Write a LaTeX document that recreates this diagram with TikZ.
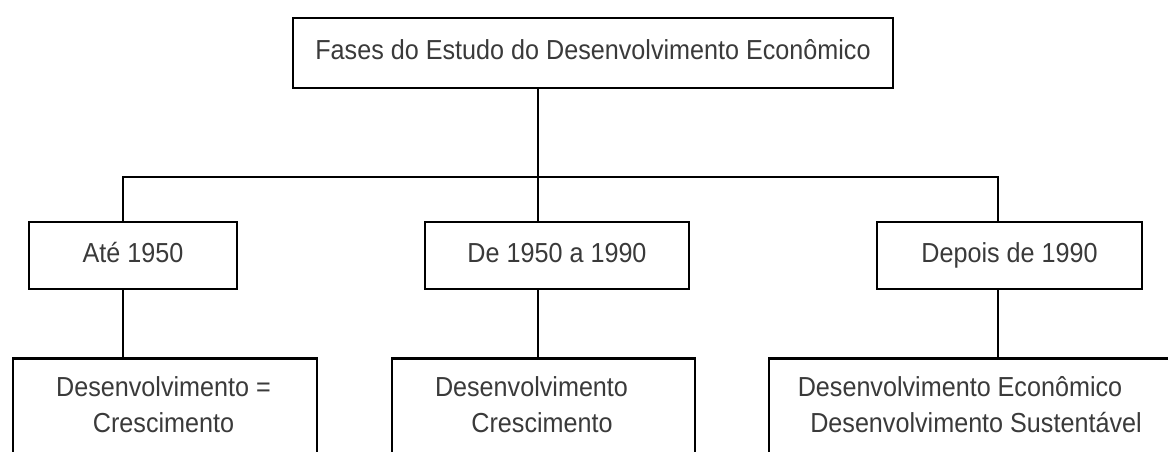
\documentclass[tikz,border=0pt]{standalone}
\usepackage{fontspec}
\setmainfont[FakeStretch=0.915]{Liberation Sans}
\definecolor{txt}{HTML}{3A3A3A}
\begin{document}
\begin{tikzpicture}[x=1pt,y=-1pt,
  box/.style={draw=black, line width=2.7pt, inner sep=0pt, text=txt,
    font=\fontsize{27.5}{36}\selectfont},
  link/.style={draw=black, line width=2.3pt},
  lbl/.style={inner sep=0pt, text=txt, anchor=base,
    font=\fontsize{27.5}{36}\selectfont}]
\clip (0,0) rectangle (1168,452);
\fill[white] (0,0) rectangle (1168,452);
% top
\node[box, minimum width=600pt, minimum height=70pt, text height=18pt, text depth=4pt]
  (top) at (593,53) {Fases do Estudo do Desenvolvimento Econômico};
% middle row
\node[box, minimum width=208pt, minimum height=67pt, text height=18pt, text depth=5pt]
  (m1) at (133,255.5) {Até 1950};
\node[box, minimum width=264pt, minimum height=67pt, text height=18pt, text depth=5pt]
  (m2) at (557,255.5) {De 1950 a 1990};
\node[box, minimum width=265pt, minimum height=67pt, text height=18pt, text depth=5pt]
  (m3) at (1009.5,255.5) {Depois de 1990};
% bottom row boxes (cut by the page)
\node[box, minimum width=304pt, minimum height=200pt, anchor=north] (b1) at (165,357) {};
\node[box, minimum width=303pt, minimum height=200pt, anchor=north] (b2) at (543.5,357) {};
\node[box, minimum width=420pt, minimum height=200pt, anchor=north] (b3) at (979,357) {};
% bottom texts
\node[lbl] (t1) at (163.5,396) {\begin{tabular}[t]{@{}c@{}}Desenvolvimento =\\Crescimento\end{tabular}};
\node[lbl] (t2) at (542,396) {\begin{tabular}[t]{@{}c@{}}Desenvolvimento\kern21pt\\Crescimento\end{tabular}};
\node[lbl] (t3) at (976,396) {\begin{tabular}[t]{@{}c@{}}Desenvolvimento Econômico\kern32pt\\Desenvolvimento Sustentável\end{tabular}};
% connectors
\coordinate (j1) at (123,177);
\coordinate (j2) at (538,177);
\coordinate (j3) at (998,177);
\draw[link] (j2 |- top.south) -- (j2);
\draw[link] (j1 |- m1.north) -- (j1) -- (j3) -- (j3 |- m3.north);
\draw[link] (j2) -- (j2 |- m2.north);
\draw[link] (j1 |- m1.south) -- (j1 |- b1.north);
\draw[link] (j2 |- m2.south) -- (j2 |- b2.north);
\draw[link] (j3 |- m3.south) -- (j3 |- b3.north);
\end{tikzpicture}
\end{document}
